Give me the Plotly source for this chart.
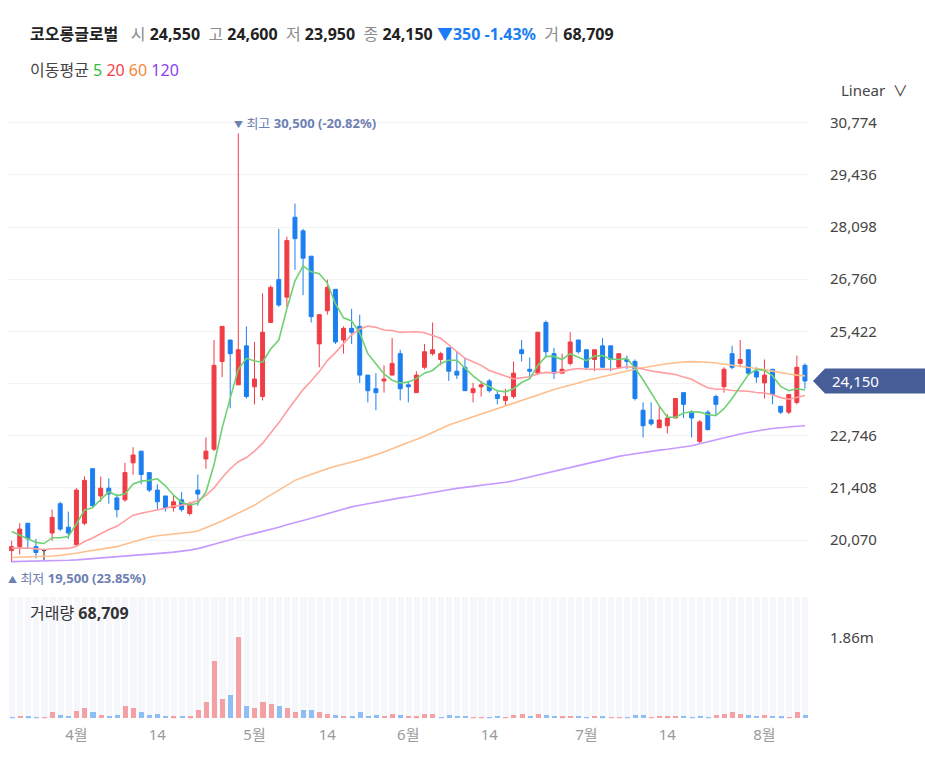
import numpy as np
import pandas as pd
import plotly.graph_objects as go

name = "코오롱글로벌"

# trading days shown on the chart (KRX, 2021-03-22 .. 2021-08-09)
days = pd.bdate_range("2021-03-22", "2021-08-09")
days = days[~days.isin(pd.to_datetime(["2021-05-05", "2021-05-19"]))]
dates = [d.strftime("%Y-%m-%d") for d in days]

opens = [19800, 19900, 20500, 19900, 19800, 20250, 21000, 20400, 19950, 20500,
         21900, 21200, 21400, 21150, 21100, 22050, 22350, 21800, 21350, 21200,
         20900, 21100, 20750, 21350, 22150, 22400, 24650, 25200, 24050, 25050,
         24000, 23750, 25650, 26750, 26300, 28350, 28000, 27350, 25100, 25950,
         26500, 25200, 25500, 25550, 24300, 23950, 24150, 24300, 24850, 24050,
         23850, 24500, 24850, 24700, 25000, 24400, 24500, 23850, 24000, 24150,
         23800, 23650, 23750, 24950, 24450, 24350, 25650, 24850, 24350, 24600,
         25200, 24950, 24700, 25050, 25050, 24500, 24700, 24650, 23400, 23150,
         22950, 23000, 23200, 23850, 23350, 22600, 23350, 23750, 24000, 24850,
         24600, 24950, 24400, 24100, 24450, 23500, 23350, 23600, 24550]
highs = [20050, 20500, 20500, 20100, 19850, 20850, 21050, 20800, 21400, 21700,
         21900, 21700, 21650, 21250, 22050, 22450, 22350, 21800, 21500, 21200,
         21200, 21300, 21050, 21750, 22700, 25200, 25550, 25200, 30500, 25550,
         25150, 26400, 26600, 28050, 27850, 28700, 28050, 27350, 25850, 26750,
         26500, 25550, 26000, 25850, 24300, 24350, 24550, 25250, 24950, 24150,
         24400, 25100, 25650, 24900, 25000, 24900, 24750, 24100, 24150, 24200,
         23900, 23950, 24650, 25200, 24750, 25400, 25700, 25000, 24850, 25400,
         25200, 24950, 24950, 25250, 25050, 24850, 24800, 24700, 23600, 23600,
         23500, 23300, 23700, 23850, 23400, 23150, 23400, 23800, 24500, 25050,
         25200, 24950, 24500, 24700, 24450, 23500, 23800, 24800, 24600]
lows = [19500, 19700, 19850, 19600, 19550, 20050, 20300, 20100, 19900, 20450,
        20900, 21050, 21000, 20650, 21050, 21750, 21500, 21300, 20850, 20800,
        20800, 20800, 20700, 20950, 21900, 22350, 24250, 23450, 24050, 23700,
        23550, 23650, 25650, 26050, 26050, 27000, 26350, 25650, 24500, 25850,
        25100, 24850, 25100, 24100, 23600, 23400, 23850, 24300, 23650, 23600,
        23850, 24450, 24800, 24550, 24150, 24200, 23900, 23600, 23750, 23850,
        23550, 23500, 23700, 24650, 24200, 24300, 24750, 24200, 24350, 24550,
        24850, 24450, 24400, 24500, 24400, 24500, 24450, 23650, 22700, 23000,
        22950, 22800, 23200, 23200, 22700, 22550, 22900, 23250, 23850, 24450,
        24500, 24300, 24100, 23700, 23550, 23300, 23300, 23550, 23950]
closes = [19900, 20350, 20100, 19750, 19800, 20650, 20350, 20250, 21350, 21600,
          20950, 21400, 21250, 20850, 21800, 22250, 21750, 21350, 21050, 20900,
          21050, 20850, 21000, 21250, 22350, 24550, 25550, 24850, 24950, 23750,
          24200, 25400, 26550, 26100, 27750, 27800, 27300, 25800, 25850, 26550,
          25150, 25500, 25400, 24300, 23900, 23850, 24200, 24600, 23950, 24000,
          24300, 24900, 24950, 24850, 24400, 24300, 23900, 23950, 24050, 23900,
          23700, 23750, 24350, 24850, 24400, 25400, 24900, 24350, 24450, 25150,
          24900, 24500, 24950, 24500, 24700, 24850, 24650, 23700, 23000, 23050,
          23150, 23200, 23700, 23550, 23200, 23100, 22900, 23550, 24450, 24500,
          24700, 24350, 24250, 24300, 23800, 23350, 23800, 24500, 24150]
volumes = [15000, 46000, 44000, 23000, 21000, 138000, 77000, 46000, 169000, 230000,
           138000, 77000, 46000, 77000, 292000, 230000, 138000, 77000, 107000, 46000,
           44000, 46000, 42000, 200000, 384000, 1320000, 445000, 537000, 1860000, 292000,
           230000, 384000, 322000, 292000, 230000, 138000, 200000, 200000, 138000, 107000,
           77000, 46000, 44000, 138000, 46000, 77000, 46000, 107000, 77000, 46000,
           44000, 107000, 107000, 15000, 77000, 46000, 46000, 15000, 17000, 15000,
           46000, 15000, 77000, 107000, 46000, 107000, 77000, 46000, 44000, 46000,
           46000, 15000, 46000, 44000, 15000, 17000, 15000, 77000, 77000, 15000,
           46000, 44000, 46000, 46000, 15000, 46000, 15000, 77000, 107000, 138000,
           107000, 77000, 46000, 77000, 46000, 44000, 15000, 138000, 68709]
# closes before the first visible day (feed the 5/20 day averages)
prev_closes = [20200, 20200, 20200, 20200, 20200, 20200, 20200, 20200,
               19170, 19170, 19170, 19170, 19170, 19170, 19170,
               20800, 20550, 20250, 19950]
ma60 = [19620, 19625, 19630, 19635, 19645, 19660, 19680, 19700, 19730, 19770,
        19800, 19830, 19860, 19900, 19960, 20020, 20080, 20140, 20180, 20200,
        20220, 20240, 20270, 20300, 20380, 20480, 20560, 20660, 20760, 20860,
        20960, 21100, 21220, 21340, 21470, 21600, 21680, 21760, 21830, 21900,
        21960, 22010, 22060, 22120, 22190, 22250, 22330, 22410, 22490, 22560,
        22630, 22730, 22830, 22930, 23020, 23090, 23160, 23230, 23300, 23380,
        23450, 23520, 23590, 23660, 23730, 23800, 23870, 23930, 23990, 24040,
        24100, 24160, 24210, 24260, 24310, 24360, 24410, 24450, 24490, 24530,
        24560, 24590, 24620, 24635, 24645, 24640, 24630, 24610, 24585, 24560,
        24530, 24500, 24470, 24440, 24400, 24360, 24330, 24300, 24280]
ma120 = [19515, 19518, 19521, 19524, 19527, 19530, 19540, 19550, 19560, 19575,
         19590, 19605, 19620, 19635, 19650, 19665, 19680, 19700, 19720, 19740,
         19760, 19780, 19810, 19850, 19900, 19960, 20020, 20080, 20140, 20190,
         20240, 20290, 20340, 20400, 20460, 20510, 20570, 20630, 20690, 20750,
         20800, 20860, 20920, 20960, 21000, 21030, 21070, 21110, 21150, 21180,
         21220, 21255, 21290, 21325, 21360, 21395, 21420, 21440, 21460, 21485,
         21510, 21550, 21590, 21640, 21690, 21740, 21790, 21840, 21885, 21930,
         21980, 22030, 22075, 22120, 22170, 22215, 22250, 22285, 22320, 22350,
         22375, 22400, 22425, 22450, 22490, 22540, 22590, 22650, 22700, 22745,
         22790, 22830, 22870, 22900, 22930, 22955, 22975, 22990, 23000]

tick_idx = [8, 18, 30, 39, 49, 59, 71, 81, 93]
tick_text = ["4월", "14", "5월", "14", "6월", "14", "7월", "14", "8월"]
price_ticks = [20070 + 1338 * k for k in range(9)]

RED, BLUE = "#ef3d46", "#1c7ff0"
RED_V, BLUE_V = "#f4a0a4", "#8ebef6"
MA_COLORS = {"5": "#6fd173", "20": "#ff9d9f", "60": "#ffbf8c", "120": "#c599ff"}
FONT = "Noto Sans, Noto Sans CJK KR, sans-serif"
W, H = 925, 761

df = pd.DataFrame(dict(date=dates, o=opens, h=highs, l=lows, c=closes, v=volumes))
allc = pd.Series(prev_closes + closes, dtype=float)
n0 = len(prev_closes)
df["ma5"] = allc.rolling(5).mean().iloc[n0:].values
df["ma20"] = allc.rolling(20).mean().iloc[n0:].values
df["ma60"] = ma60
df["ma120"] = ma120
prevc = allc.shift(1).iloc[n0:].values
df["vcol"] = np.where(df.c.values >= prevc, RED_V, BLUE_V)

doji = df[df.o == df.c]
body = df[df.o != df.c]

fig = go.Figure()

# volume pane: background stripes + bars
vol_top = max(volumes) * 1.5
fig.add_trace(go.Bar(x=df.date, y=[vol_top] * len(df), marker_color="#f5f7fa",
                     marker_line_width=0, width=0.76, xaxis="x2", yaxis="y2"))
fig.add_trace(go.Bar(x=df.date, y=df.v, marker_color=df.vcol, marker_line_width=0,
                     width=0.62, xaxis="x2", yaxis="y2"))

# moving averages
for key in ["120", "60", "20", "5"]:
    fig.add_trace(go.Scatter(x=df.date, y=df["ma" + key], mode="lines",
                             line=dict(color=MA_COLORS[key], width=1.6)))

fig.add_trace(go.Candlestick(
    x=body.date, open=body.o, high=body.h, low=body.l, close=body.c,
    increasing=dict(line=dict(color=RED, width=1), fillcolor=RED),
    decreasing=dict(line=dict(color=BLUE, width=1), fillcolor=BLUE),
    whiskerwidth=0))
fig.add_trace(go.Candlestick(
    x=doji.date, open=doji.o, high=doji.h, low=doji.l, close=doji.c,
    increasing=dict(line=dict(color="#222", width=1), fillcolor="#222"),
    decreasing=dict(line=dict(color="#222", width=1), fillcolor="#222"),
    whiskerwidth=0))

x0, x1 = 7.6 / W, 809 / W
last = df.iloc[-1]
c = last.c
chg = c - df.c.iloc[-2]
pct = chg / df.c.iloc[-2] * 100


def py(p):
    return 1 - p / H


# the tick hidden behind the current-price tag keeps its gridline only
price_text = ["" if abs(t - c) < 669 else f"{t:,}" for t in price_ticks]

fig.update_layout(
    width=W, height=H, margin=dict(l=0, r=0, t=0, b=0),
    paper_bgcolor="white", plot_bgcolor="white",
    showlegend=False, hovermode=False, barmode="overlay", bargap=0,
    font=dict(family=FONT, color="#333"),
    xaxis=dict(type="category", domain=[x0, x1], anchor="y", showticklabels=False,
               showgrid=False, zeroline=False, rangeslider=dict(visible=False),
               categoryorder="array", categoryarray=dates, range=[-0.5, len(dates) - 0.5]),
    xaxis2=dict(type="category", domain=[x0, x1], anchor="y2", matches="x",
                showgrid=False, zeroline=False, showline=False,
                categoryorder="array", categoryarray=dates,
                tickvals=[dates[i] for i in tick_idx], ticktext=tick_text,
                tickfont=dict(size=15, color="#9a9a9a"), ticks="",
                ticklabelstandoff=6),
    yaxis=dict(domain=[py(570), py(110)], range=[19301, 31100], side="right",
               tickvals=price_ticks, ticktext=price_text,
               tickfont=dict(size=15, color="#444"), showgrid=True,
               gridcolor="#f2f3f5", gridwidth=1, zeroline=False, ticks="",
               ticklabelstandoff=20),
    yaxis2=dict(domain=[py(718.3), py(597)], range=[0, vol_top], side="right",
                tickvals=[max(volumes)], ticktext=[f"{max(volumes) / 1e6:.2f}m"],
                tickfont=dict(size=15, color="#444"), showgrid=False,
                zeroline=False, ticks="", ticklabelstandoff=20),
)

# current price tag
half = 320
fig.add_shape(type="path", xref="paper", yref="y", fillcolor="#465d98", line_width=0,
              path=f"M {813 / W},{c} L {825 / W},{c + half} L 1,{c + half} "
                   f"L 1,{c - half} L {825 / W},{c - half} Z")
fig.add_annotation(x=830 / W, xref="paper", y=c, yref="y", xanchor="left",
                   yanchor="middle", text=f"{int(c):,}", showarrow=False,
                   font=dict(size=15, color="white"))

# high / low marks
hi_i = int(np.argmax(highs))
lo_i = int(np.argmin(lows))
hi, lo = highs[hi_i], lows[lo_i]
fig.add_annotation(x=dates[hi_i], y=hi, xref="x", yref="y", xanchor="left",
                   yanchor="bottom", xshift=-6, yshift=-1, showarrow=False,
                   font=dict(size=13, color="#6d80b3"),
                   text=f"<span style='font-size:9px'>▼</span> 최고 "
                        f"<b>{hi:,} ({(c - hi) / hi * 100:.2f}%)</b>")
fig.add_annotation(x=dates[lo_i], y=lo, xref="x", yref="y", xanchor="left",
                   yanchor="top", xshift=-6, yshift=-5, showarrow=False,
                   font=dict(size=13, color="#6d80b3"),
                   text=f"<span style='font-size:9px'>▲</span> 최저 "
                        f"<b>{lo:,} ({(c - lo) / lo * 100:.2f}%)</b>")

# header texts
gray = "color:#8c8c8c"
head = (f"<b>{name}</b>   "
        f"<span style='{gray}'>시</span> <b>{int(last.o):,}</b>  "
        f"<span style='{gray}'>고</span> <b>{int(last.h):,}</b>  "
        f"<span style='{gray}'>저</span> <b>{int(last.l):,}</b>  "
        f"<span style='{gray}'>종</span> <b>{int(last.c):,}</b> "
        f"<span style='color:#1b7cf5'><b>▼{abs(int(chg)):,} {pct:.2f}%</b></span>  "
        f"<span style='{gray}'>거</span> <b>{int(last.v):,}</b>")
fig.add_annotation(x=28 / W, y=py(34), xref="paper", yref="paper", xanchor="left",
                   yanchor="middle", text=head, showarrow=False,
                   font=dict(size=16, color="#222"))
fig.add_annotation(x=28 / W, y=py(70), xref="paper", yref="paper", xanchor="left",
                   yanchor="middle", showarrow=False, font=dict(size=16, color="#444"),
                   text="이동평균 <span style='color:#2fbf3a'>5</span> "
                        "<span style='color:#f0434d'>20</span> "
                        "<span style='color:#f5883f'>60</span> "
                        "<span style='color:#8a3ff0'>120</span>")
fig.add_annotation(x=910 / W, y=py(90), xref="paper", yref="paper", xanchor="right",
                   yanchor="middle", showarrow=False, font=dict(size=15, color="#444"),
                   text="Linear  ∨")
fig.add_annotation(x=28 / W, y=py(613), xref="paper", yref="paper", xanchor="left",
                   yanchor="middle", showarrow=False, font=dict(size=16, color="#333"),
                   text=f"거래량 <b>{int(last.v):,}</b>")

fig.write_html("out.html", config={"displayModeBar": False},
               post_script="document.body.style.margin='0';")
